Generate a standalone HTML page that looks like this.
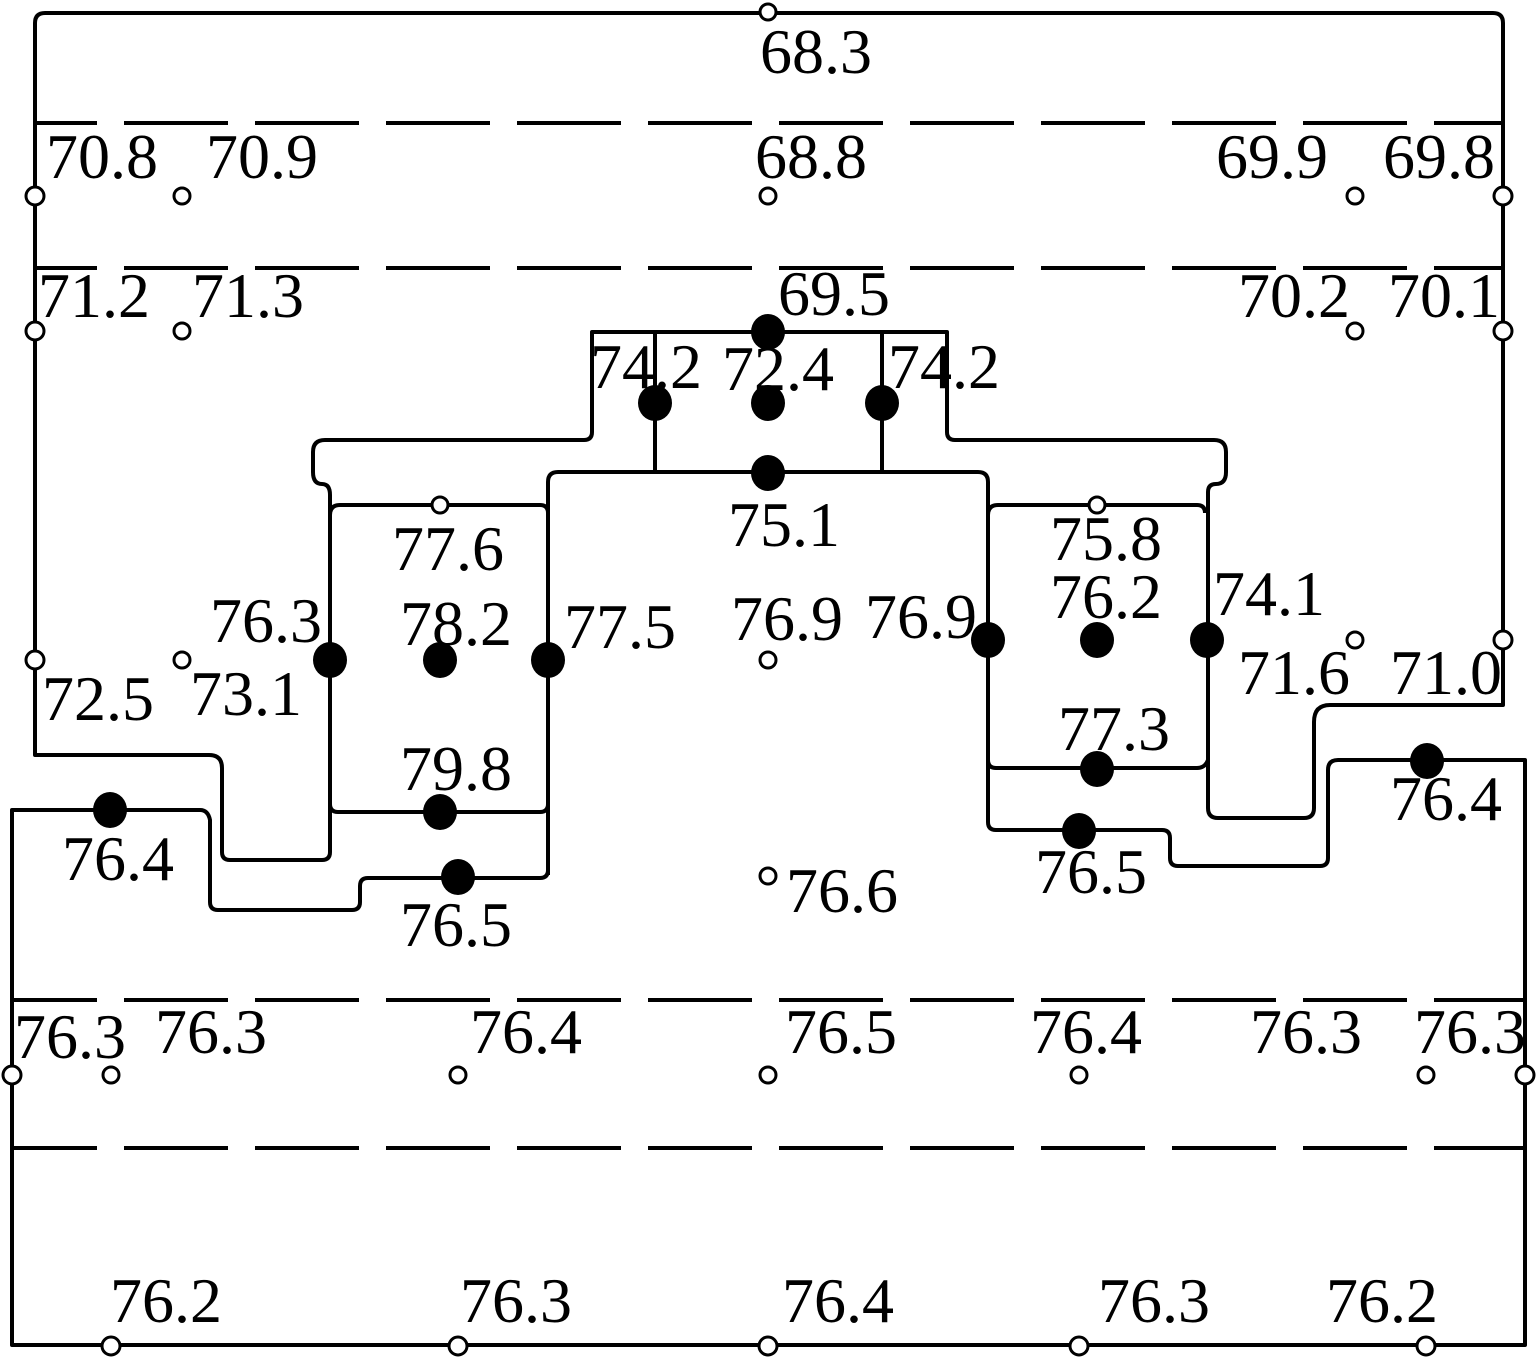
<!DOCTYPE html>
<html><head><meta charset="utf-8"><style>
html,body{margin:0;padding:0;background:#fff}
svg{display:block}
text{font-family:"Liberation Serif",serif;font-size:64px;fill:#000}
</style></head><body>
<svg width="1538" height="1359" viewBox="0 0 1538 1359" xmlns="http://www.w3.org/2000/svg">
<g fill="none" stroke="#000" stroke-width="4" stroke-linejoin="round">
<path d="M45 13 H1493 Q1503 13 1503 23 V705 H1330 Q1314 705 1314 722 V808 Q1314 818 1304 818 H1218 Q1208 818 1208 808 V492 Q1208 484 1216 484 Q1226 484 1226 472 V452 Q1226 440 1214 440 H955 Q947 440 947 432 V332 H592 V432 Q592 440 584 440 H325 Q313 440 313 452 V472 Q313 484 322 484 Q330 484 330 495 V852 Q330 860 322 860 H230 Q222 860 222 852 V768 Q222 755 209 755 H35 V23 Q35 13 45 13 Z"/>
<line x1="35" y1="123" x2="1503" y2="123" stroke-dasharray="104 27" stroke-dashoffset="42"/>
<line x1="35" y1="268" x2="1503" y2="268" stroke-dasharray="104 27" stroke-dashoffset="42"/>
<line x1="12" y1="1000" x2="1525" y2="1000" stroke-dasharray="104 27" stroke-dashoffset="19"/>
<line x1="12" y1="1148" x2="1525" y2="1148" stroke-dasharray="104 27" stroke-dashoffset="19"/>
<line x1="655" y1="332" x2="655" y2="472"/>
<line x1="882" y1="332" x2="882" y2="472"/>
<path d="M548 875 V482 Q548 472 558 472 H978 Q988 472 988 482 V822 Q988 830 996 830 H1162 Q1170 830 1170 838 V858 Q1170 866 1178 866 H1320 Q1328 866 1328 858 V770 Q1328 760 1338 760 H1525 V1345 H12 V810 H200 Q208 810 210 820 V902 Q210 910 218 910 H352 Q360 910 360 902 V886 Q360 878 368 878 H540 Q548 878 548 870"/>
<path d="M330 515 Q330 505 340 505 H540 Q548 505 548 513 M330 804 Q330 812 338 812 H540 Q548 812 548 804"/>
<path d="M988 515 Q988 505 998 505 H1197 Q1205 505 1205 513 M988 760 Q988 768 996 768 H1197 Q1205 768 1208 760"/>
</g>
<g fill="#fff" stroke="#000" stroke-width="3">
<circle cx="768" cy="12" r="8"/>
<circle cx="35" cy="196" r="9"/><circle cx="182" cy="196" r="8"/><circle cx="768" cy="196" r="8"/><circle cx="1355" cy="196" r="8"/><circle cx="1503" cy="196" r="9"/>
<circle cx="35" cy="331" r="9"/><circle cx="182" cy="331" r="8"/><circle cx="1355" cy="331" r="8"/><circle cx="1503" cy="331" r="9"/>
<circle cx="440" cy="505" r="8"/><circle cx="1097" cy="505" r="8"/>
<circle cx="35" cy="660" r="9"/><circle cx="182" cy="660" r="8"/><circle cx="768" cy="660" r="8"/><circle cx="1355" cy="640" r="8"/><circle cx="1503" cy="640" r="9"/>
<circle cx="768" cy="876" r="8"/>
<circle cx="12" cy="1075" r="9"/><circle cx="111" cy="1075" r="8"/><circle cx="458" cy="1075" r="8"/><circle cx="768" cy="1075" r="8"/><circle cx="1079" cy="1075" r="8"/><circle cx="1426" cy="1075" r="8"/><circle cx="1525" cy="1075" r="9"/>
<circle cx="111" cy="1346" r="9"/><circle cx="458" cy="1346" r="9"/><circle cx="768" cy="1346" r="9"/><circle cx="1079" cy="1346" r="9"/><circle cx="1426" cy="1346" r="9"/>
</g>
<g fill="#000">
<ellipse cx="768" cy="332" rx="17" ry="18"/>
<ellipse cx="655" cy="403" rx="17" ry="18"/><ellipse cx="768" cy="403" rx="17" ry="18"/><ellipse cx="882" cy="403" rx="17" ry="18"/>
<ellipse cx="768" cy="473" rx="17" ry="18"/>
<ellipse cx="330" cy="660" rx="17" ry="18"/><ellipse cx="440" cy="660" rx="17" ry="18"/><ellipse cx="548" cy="660" rx="17" ry="18"/>
<ellipse cx="988" cy="640" rx="17" ry="18"/><ellipse cx="1097" cy="640" rx="17" ry="18"/><ellipse cx="1207" cy="640" rx="17" ry="18"/>
<ellipse cx="1097" cy="769" rx="17" ry="18"/><ellipse cx="1079" cy="831" rx="17" ry="18"/><ellipse cx="1427" cy="761" rx="17" ry="18"/>
<ellipse cx="110" cy="810" rx="17" ry="18"/><ellipse cx="440" cy="812" rx="17" ry="18"/><ellipse cx="458" cy="877" rx="17" ry="18"/>
</g>
<g>
<text x="760" y="73">68.3</text>
<text x="46" y="178">70.8</text><text x="206" y="178">70.9</text><text x="755" y="178">68.8</text><text x="1216" y="178">69.9</text><text x="1383" y="178">69.8</text>
<text x="38" y="317">71.2</text><text x="192" y="317">71.3</text><text x="778" y="315">69.5</text><text x="1238" y="317">70.2</text><text x="1388" y="317">70.1</text>
<text x="590" y="388">74.2</text><text x="722" y="390">72.4</text><text x="888" y="388">74.2</text>
<text x="728" y="546">75.1</text><text x="392" y="570">77.6</text><text x="1050" y="560">75.8</text>
<text x="210" y="642">76.3</text><text x="400" y="645">78.2</text><text x="564" y="648">77.5</text><text x="731" y="640">76.9</text><text x="865" y="638">76.9</text><text x="1050" y="618">76.2</text><text x="1213" y="615">74.1</text>
<text x="42" y="720">72.5</text><text x="190" y="715">73.1</text><text x="1238" y="694">71.6</text><text x="1390" y="694">71.0</text>
<text x="1058" y="750">77.3</text><text x="400" y="790">79.8</text>
<text x="62" y="880">76.4</text><text x="1390" y="820">76.4</text><text x="1035" y="893">76.5</text><text x="400" y="946">76.5</text><text x="786" y="912">76.6</text>
<text x="14" y="1058">76.3</text><text x="155" y="1053">76.3</text><text x="470" y="1053">76.4</text><text x="785" y="1053">76.5</text><text x="1030" y="1053">76.4</text><text x="1250" y="1053">76.3</text><text x="1414" y="1053">76.3</text>
<text x="110" y="1322">76.2</text><text x="460" y="1322">76.3</text><text x="782" y="1322">76.4</text><text x="1098" y="1322">76.3</text><text x="1326" y="1322">76.2</text>
</g>
</svg>
</body></html>
